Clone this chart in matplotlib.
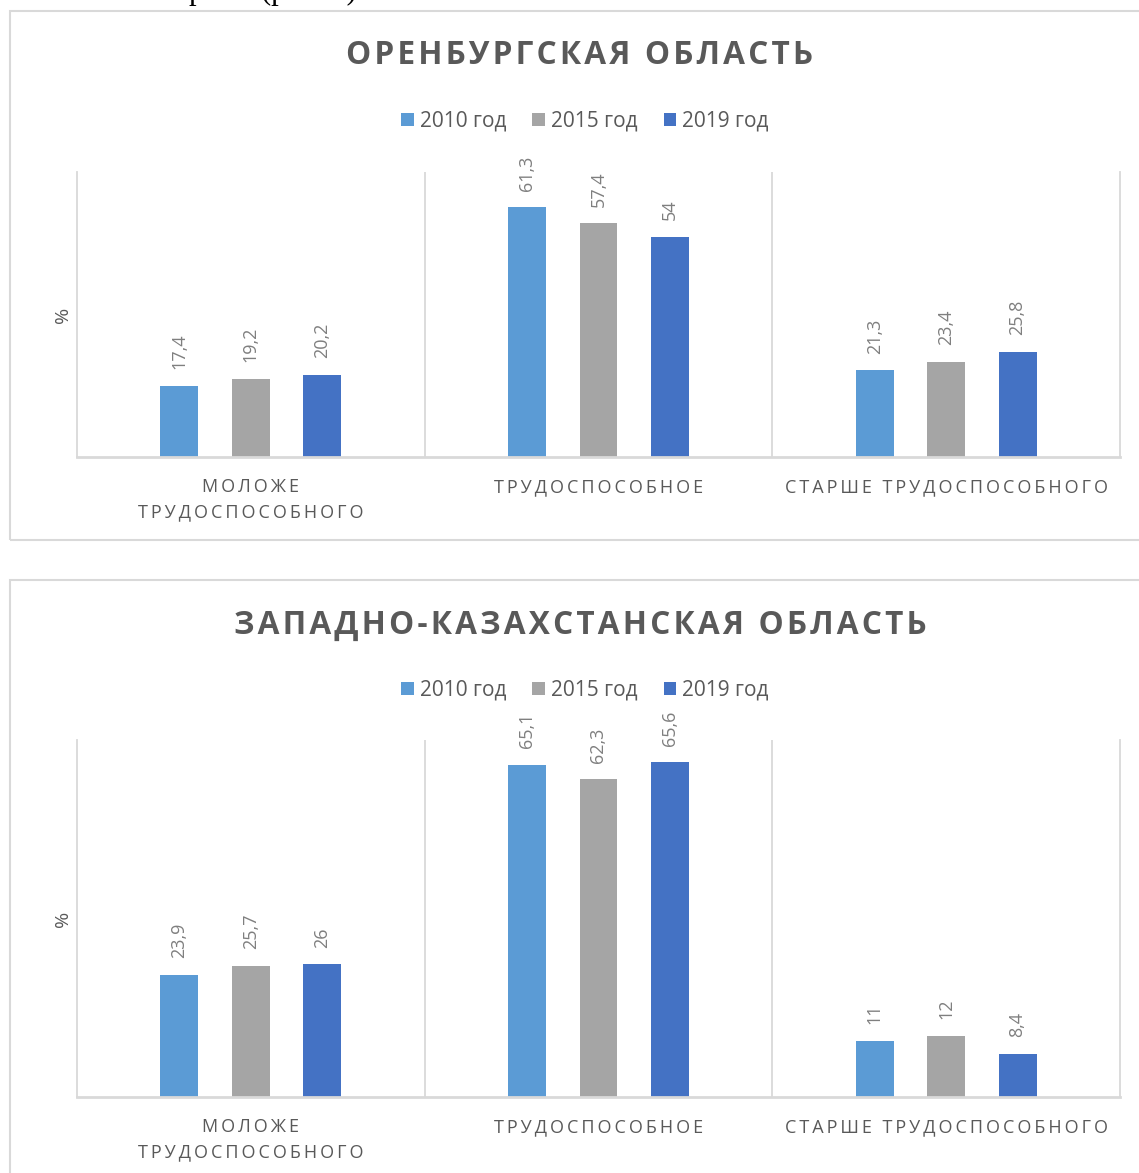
import matplotlib.pyplot as plt
from matplotlib.patches import Rectangle

# данные
categories = ["МОЛОЖЕ\nТРУДОСПОСОБНОГО", "ТРУДОСПОСОБНОЕ", "СТАРШЕ ТРУДОСПОСОБНОГО"]
years = ["2010 год", "2015 год", "2019 год"]
colors = ["#5b9bd5", "#a5a5a5", "#4472c4"]

orenburg_2010 = [17.4, 61.3, 21.3]
orenburg_2015 = [19.2, 57.4, 23.4]
orenburg_2019 = [20.2, 54, 25.8]

zko_2010 = [23.9, 65.1, 11]
zko_2015 = [25.7, 62.3, 12]
zko_2019 = [26, 65.6, 8.4]

W, H = 1139, 1173
plt.rcParams['font.family'] = ['Open Sans', 'DejaVu Sans']
fig = plt.figure(figsize=(W / 100, H / 100), dpi=100)


def fx(px):
    return px / W


def fy(py):
    return 1 - py / H


def spaced(s, sep='\u2009'):
    return '\n'.join(sep.join(line) for line in s.split('\n'))


def fmt(v):
    return f"{v:g}".replace('.', ',')


def panel(title, series, frame_top, frame_bottom, ax_top, ax_bottom):
    # рамка
    fig.add_artist(Rectangle((fx(10), fy(frame_bottom)), fx(1200), fy(frame_top) - fy(frame_bottom),
                             transform=fig.transFigure, fill=False, edgecolor='#d9d9d9', lw=1.5))
    fig.text(fx(580), fy(frame_top + 45), spaced(title, '\u200a'), ha='center', va='center',
             fontsize=22.8, fontweight='bold', color='#595959')

    ax = fig.add_axes([fx(77), fy(ax_bottom), fx(1120) - fx(77), fy(ax_top) - fy(ax_bottom)])
    x = range(len(categories))
    width = 0.109
    step = 0.2055
    bars = []
    for i, (vals, lab, c) in enumerate(zip(series, years, colors)):
        b = ax.bar([xi + (i - 1) * step for xi in x], vals, width, color=c, label=lab)
        ax.bar_label(b, labels=[fmt(v) for v in vals], rotation=90, padding=12,
                     fontsize=13, color='#7f7f7f')
        bars.append(b)

    ax.set_xlim(-0.5, 2.5)
    ax.set_ylim(0, 70)
    ax.set_yticks([])
    ax.set_xticks(list(x), [spaced(c) for c in categories])
    ax.tick_params(axis='x', length=0, pad=15, labelsize=13, labelcolor='#595959')
    for t in ax.get_xticklabels():
        t.set_linespacing(1.5)
    ax.set_xticks([0.5, 1.5], minor=True)
    ax.tick_params(axis='x', which='minor', length=0)
    ax.grid(which='minor', axis='x', color='#d9d9d9', lw=1.3)
    ax.spines['top'].set_visible(False)
    for s in ['left', 'right']:
        ax.spines[s].set_color('#d9d9d9')
        ax.spines[s].set_linewidth(1.3)
    ax.spines['bottom'].set_color('#d9d9d9')
    ax.spines['bottom'].set_linewidth(2)
    ax.set_ylabel('%', color='#595959', fontsize=14)
    ax.yaxis.set_label_coords(-5 / 1043, 0.5)

    ax.legend(handles=bars, loc='center', bbox_to_anchor=(fx(585), fy(frame_top + 110)),
              bbox_transform=fig.transFigure, ncol=3, frameon=False, fontsize=15,
              handlelength=0.6, handleheight=0.6, handletextpad=0.3, columnspacing=1.25,
              labelcolor='#595959')
    return ax


panel("ОРЕНБУРГСКАЯ ОБЛАСТЬ", [orenburg_2010, orenburg_2015, orenburg_2019], 11, 540, 172, 457)
panel("ЗАПАДНО-КАЗАХСТАНСКАЯ ОБЛАСТЬ", [zko_2010, zko_2015, zko_2019], 580, 1300, 740, 1097)

# обрезанная строка текста документа сверху
fig.text(fx(189), fy(-1), "рами (рис. 4)", family='Liberation Serif', fontsize=22,
         ha='left', va='baseline', color='black')

fig.savefig('out.png', dpi=100)
